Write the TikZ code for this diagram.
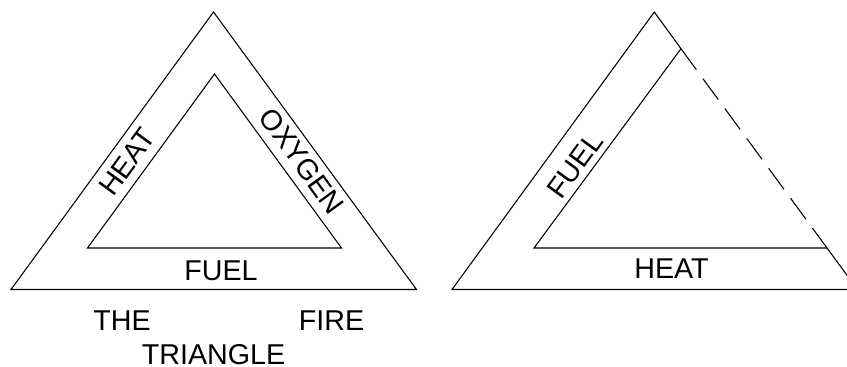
\documentclass[tikz,border=0pt]{standalone}
\usepackage{fontspec}
\setmainfont{Liberation Sans}
\usetikzlibrary{calc}
\tikzset{
  side/.style={line width=0.8pt,line join=miter,black},
  gone/.style={side,dash pattern=on 19.5pt off 8.3pt},
  tag/.style={font=\fontsize{21.5}{26}\selectfont,inner sep=0pt},
}

\begin{document}
\begin{tikzpicture}[x=0.75pt,y=-0.75pt]
  \useasboundingbox (0,0) rectangle (847,367);
  \clip (0,0) rectangle (847,367);
  % the fire triangle, all three sides present
  \coordinate (top) at (213.5,12);
  \coordinate (bl) at (11,289.5);
  \coordinate (br) at (416.5,289.5);
  \coordinate (itop) at (214.5,74);
  \coordinate (ibl) at (87.5,248);
  \coordinate (ibr) at (341.5,248);
  \draw[side] (top) -- (bl) -- (br) -- cycle;
  \draw[side] (itop) -- (ibl) -- (ibr) -- cycle;
  \node[tag,rotate=53.9] (heatA) at (127,162) {HEAT};
  \node[tag,rotate=-53.9] (oxy) at (302,161) {OXYGEN};
  \node[tag] (fuelA) at (221,270.5) {FUEL};
  \node[tag] (the) at (122,320.5) {THE};
  \node[tag] (fire) at (331.5,320.5) {FIRE};
  \node[tag] (tri) at (213.5,355) {TRIANGLE};
  % same triangle with the oxygen side taken away
  \coordinate (rtop) at (654.3,12);
  \coordinate (rbl) at (452,289.5);
  \coordinate (rbr) at (857.5,289.5);
  \coordinate (rin) at (681,48.7);
  \coordinate (ril) at (534,248);
  \coordinate (rib) at (827,248);
  \draw[side] (rbr) -- (rbl) -- (rtop) -- (rin);
  \draw[gone] (rin) -- (rib);
  \draw[side] (rib) -- (rbr);
  \draw[side] (rin) -- (ril) -- (rib);
  \node[tag,rotate=53.9] (fuelB) at (575,165) {FUEL};
  \node[tag] (heatB) at (671.5,269) {HEAT};
\end{tikzpicture}
\end{document}
